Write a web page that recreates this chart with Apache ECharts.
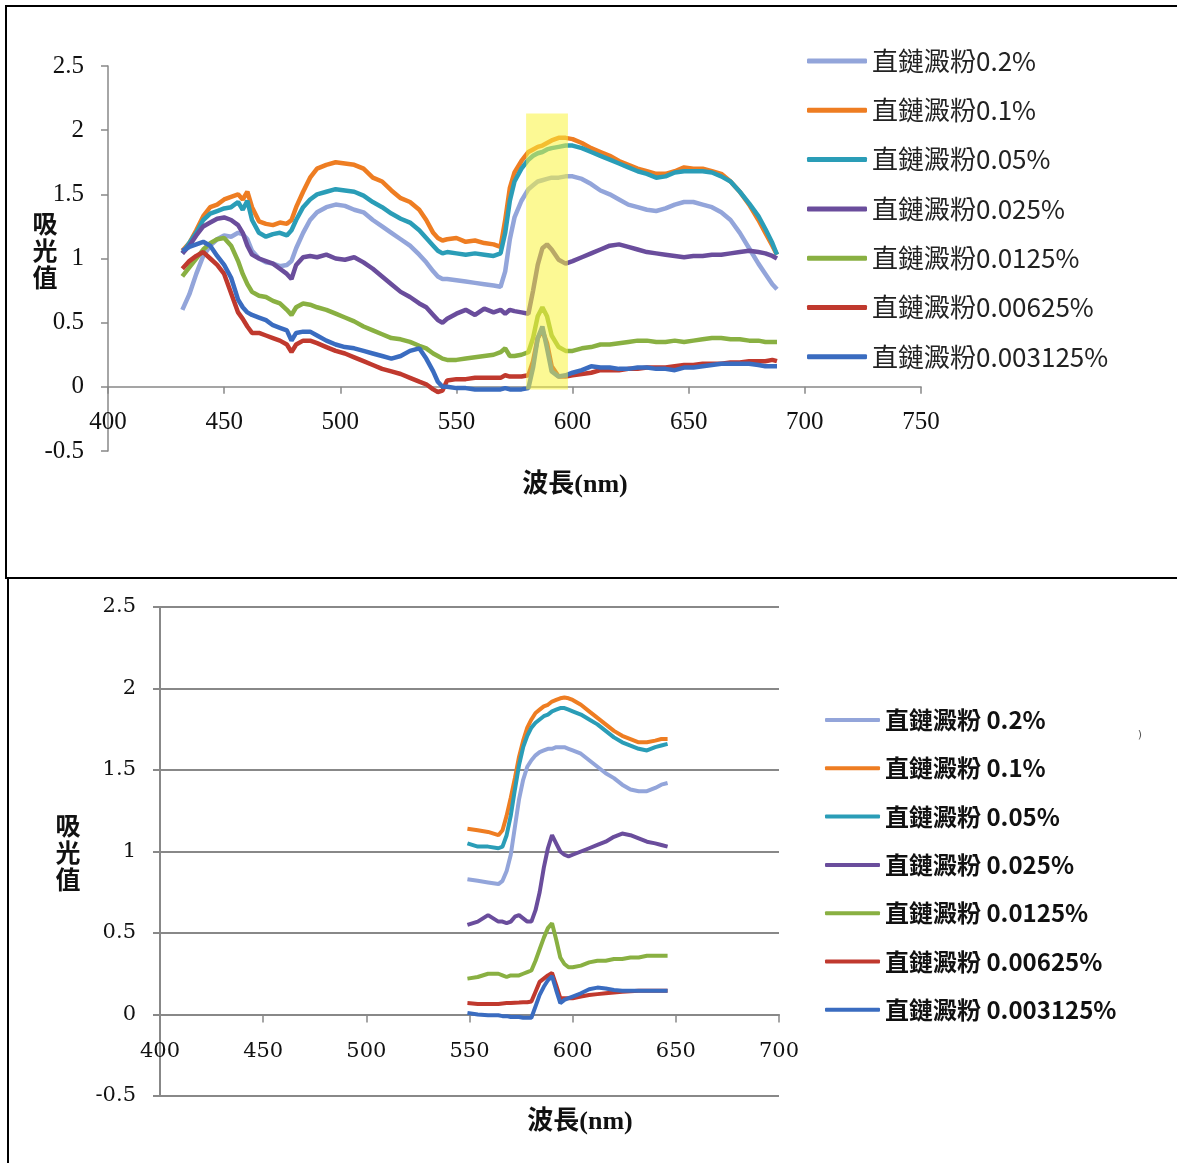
<!DOCTYPE html>
<html>
<head>
<meta charset="utf-8">
<script src="https://cdn.jsdelivr.net/npm/echarts@6/dist/echarts.min.js"></script>
<style>
html,body{margin:0;padding:0;background:#fff;}
#main{width:1177px;height:1163px;}
</style>
</head>
<body>
<div id="main"></div>
<script>
// ---------- names ----------
const seriesNames = ['直鏈澱粉0.2%','直鏈澱粉0.1%','直鏈澱粉0.05%','直鏈澱粉0.025%','直鏈澱粉0.0125%','直鏈澱粉0.00625%','直鏈澱粉0.003125%'];
const seriesColors = ['#93a5da','#ee7d22','#2a9db7','#6a4d9c','#89b042','#c0392e','#3a6cc0'];

// ---------- top chart (full spectrum) ----------
const topWave = [432,435,438,441,444,447,450,453,456,458,460,462,465,468,471,474,477,479,481,484,
487,490,494,498,502,506,510,514,518,522,526,530,534,537,540,542,544,546,550,554,
558,562,566,569,571,573,575,578,581,583,585,587,589,591,594,597,600,604,608,612,
616,620,624,628,632,636,640,644,648,652,656,660,664,668,672,676,680,683,686,688];

const top02 = [0.60,0.72,0.88,1.02,1.10,1.15,1.18,1.17,1.20,1.19,1.15,1.06,1.00,0.97,0.96,0.94,0.95,0.98,1.08,1.20,
1.30,1.36,1.40,1.42,1.41,1.38,1.36,1.30,1.25,1.20,1.15,1.10,1.03,0.97,0.90,0.86,0.84,0.84,0.83,0.82,
0.81,0.80,0.79,0.78,0.90,1.15,1.32,1.45,1.54,1.57,1.60,1.61,1.62,1.63,1.63,1.64,1.64,1.62,1.58,1.53,
1.50,1.46,1.42,1.40,1.38,1.37,1.39,1.42,1.44,1.44,1.42,1.40,1.36,1.30,1.20,1.08,0.96,0.88,0.80,0.76];

const top01 = [1.06,1.12,1.22,1.33,1.40,1.42,1.46,1.48,1.50,1.46,1.52,1.40,1.29,1.27,1.26,1.28,1.27,1.30,1.40,1.52,
1.63,1.70,1.73,1.75,1.74,1.73,1.70,1.63,1.60,1.53,1.47,1.44,1.38,1.30,1.20,1.16,1.14,1.15,1.16,1.13,
1.14,1.12,1.11,1.09,1.30,1.55,1.67,1.76,1.83,1.85,1.87,1.88,1.90,1.92,1.94,1.94,1.93,1.90,1.86,1.83,
1.80,1.76,1.73,1.70,1.68,1.66,1.66,1.68,1.71,1.70,1.70,1.68,1.66,1.60,1.52,1.42,1.30,1.20,1.10,1.03];

const top005 = [1.04,1.12,1.20,1.30,1.35,1.37,1.39,1.40,1.44,1.38,1.45,1.30,1.20,1.17,1.19,1.20,1.18,1.22,1.30,1.40,
1.46,1.50,1.52,1.54,1.53,1.52,1.49,1.44,1.40,1.35,1.31,1.28,1.22,1.16,1.10,1.06,1.04,1.05,1.04,1.03,
1.04,1.03,1.02,1.04,1.20,1.45,1.60,1.70,1.77,1.80,1.82,1.83,1.85,1.86,1.87,1.88,1.88,1.86,1.83,1.80,
1.77,1.74,1.71,1.68,1.66,1.63,1.64,1.67,1.68,1.68,1.68,1.67,1.64,1.60,1.52,1.43,1.33,1.23,1.12,1.03];

const top0025 = [1.04,1.10,1.18,1.25,1.28,1.31,1.32,1.30,1.26,1.20,1.10,1.03,1.00,0.98,0.96,0.92,0.88,0.84,0.95,1.01,
1.02,1.01,1.03,1.00,0.99,1.01,0.97,0.92,0.86,0.80,0.74,0.70,0.65,0.62,0.56,0.52,0.50,0.53,0.57,0.60,
0.56,0.61,0.58,0.60,0.57,0.60,0.59,0.58,0.57,0.75,0.95,1.08,1.11,1.07,0.99,0.96,0.98,1.01,1.04,1.07,
1.10,1.11,1.09,1.07,1.05,1.04,1.03,1.02,1.01,1.02,1.02,1.03,1.03,1.04,1.05,1.06,1.05,1.04,1.02,1.00];

const top00125 = [0.86,0.93,1.00,1.07,1.12,1.15,1.16,1.10,0.98,0.88,0.80,0.74,0.71,0.70,0.67,0.65,0.60,0.56,0.62,0.65,
0.64,0.62,0.60,0.57,0.54,0.51,0.47,0.44,0.41,0.38,0.37,0.35,0.32,0.30,0.26,0.24,0.22,0.21,0.21,0.22,
0.23,0.24,0.25,0.27,0.30,0.24,0.24,0.25,0.27,0.38,0.55,0.62,0.55,0.40,0.31,0.28,0.28,0.30,0.31,0.33,
0.33,0.34,0.35,0.36,0.36,0.35,0.35,0.36,0.35,0.36,0.37,0.38,0.38,0.37,0.37,0.36,0.36,0.35,0.35,0.35];

const top000625 = [0.92,0.98,1.02,1.05,1.00,0.95,0.88,0.73,0.58,0.53,0.47,0.42,0.42,0.40,0.38,0.36,0.33,0.27,0.33,0.36,
0.36,0.34,0.31,0.28,0.26,0.23,0.20,0.17,0.14,0.12,0.10,0.07,0.04,0.02,-0.02,-0.04,-0.03,0.05,0.06,0.06,
0.07,0.07,0.07,0.07,0.09,0.08,0.08,0.08,0.09,0.20,0.38,0.44,0.34,0.16,0.08,0.08,0.09,0.10,0.11,0.13,
0.13,0.13,0.14,0.14,0.15,0.15,0.15,0.16,0.17,0.17,0.18,0.18,0.18,0.19,0.19,0.20,0.20,0.20,0.21,0.20];

const top0003125 = [1.06,1.09,1.11,1.13,1.10,1.02,0.95,0.85,0.68,0.62,0.58,0.56,0.54,0.52,0.48,0.46,0.44,0.36,0.42,0.43,
0.43,0.40,0.36,0.33,0.31,0.30,0.28,0.26,0.24,0.22,0.24,0.28,0.30,0.22,0.12,0.04,0.00,0.00,-0.01,-0.01,
-0.02,-0.02,-0.02,-0.02,-0.01,-0.02,-0.02,-0.02,-0.01,0.15,0.38,0.47,0.30,0.12,0.08,0.09,0.11,0.13,0.16,0.15,
0.15,0.14,0.14,0.15,0.15,0.14,0.14,0.13,0.15,0.15,0.16,0.17,0.18,0.18,0.18,0.18,0.17,0.16,0.16,0.16];

// highlighted band [x0, x1, y0, y1]
const highlightBand = [580, 598, -0.02, 2.13];

// ---------- bottom chart (550-650 nm) ----------
const botWave = [549,554,559,564,566,568,570,572,574,576,578,580,582,584,586,588,590,592,594,596,598,600,604,608,612,616,620,624,628,632,636,640,643,646];

const bot02 = [0.83,0.82,0.81,0.80,0.82,0.88,0.98,1.15,1.32,1.44,1.52,1.56,1.59,1.61,1.62,1.63,1.63,1.64,1.64,1.64,1.63,1.62,1.60,1.56,1.52,1.48,1.45,1.41,1.38,1.37,1.37,1.39,1.41,1.42];
const bot01 = [1.14,1.13,1.12,1.10,1.13,1.22,1.33,1.45,1.58,1.68,1.76,1.81,1.85,1.87,1.89,1.90,1.92,1.93,1.94,1.945,1.94,1.93,1.90,1.86,1.82,1.78,1.74,1.71,1.69,1.67,1.67,1.68,1.69,1.69];
const bot005 = [1.05,1.03,1.03,1.02,1.03,1.10,1.22,1.38,1.53,1.64,1.71,1.76,1.79,1.81,1.83,1.84,1.86,1.87,1.88,1.88,1.87,1.86,1.84,1.81,1.78,1.74,1.70,1.67,1.65,1.63,1.62,1.64,1.65,1.66];
const bot0025 = [0.55,0.57,0.61,0.57,0.57,0.56,0.57,0.60,0.61,0.59,0.57,0.57,0.64,0.75,0.90,1.02,1.10,1.05,1.00,0.98,0.97,0.98,1.00,1.02,1.04,1.06,1.09,1.11,1.10,1.08,1.06,1.05,1.04,1.03];
const bot00125 = [0.22,0.23,0.25,0.25,0.24,0.23,0.24,0.24,0.24,0.25,0.26,0.27,0.33,0.40,0.47,0.53,0.56,0.46,0.35,0.31,0.29,0.29,0.30,0.32,0.33,0.33,0.34,0.34,0.35,0.35,0.36,0.36,0.36,0.36];
const bot000625 = [0.07,0.065,0.065,0.065,0.068,0.07,0.07,0.072,0.073,0.075,0.075,0.08,0.14,0.20,0.22,0.24,0.255,0.18,0.10,0.10,0.10,0.10,0.11,0.12,0.125,0.13,0.135,0.14,0.142,0.145,0.145,0.145,0.145,0.145];
const bot0003125 = [0.01,0.00,-0.005,-0.005,-0.01,-0.01,-0.015,-0.015,-0.015,-0.02,-0.02,-0.02,0.05,0.12,0.17,0.21,0.235,0.15,0.07,0.09,0.10,0.11,0.13,0.155,0.165,0.16,0.15,0.145,0.145,0.145,0.145,0.145,0.145,0.145];

const topValues = [top02, top01, top005, top0025, top00125, top000625, top0003125];
const botValues = [bot02, bot01, bot005, bot0025, bot00125, bot000625, bot0003125];

const zip = (xs, ys) => xs.map((x, i) => [x, ys[i]]);

// grid geometry (layout only)
const topGrid = { left: 108, top: 66, width: 813, height: 385 };
const botGrid = { left: 160, top: 607, width: 619, height: 489 };
const yMin = -0.5, yMax = 2.5;
// shift the x axis up so that it sits on y = 0
const topZeroOffset = -topGrid.height * (0 - yMin) / (yMax - yMin);
const botZeroOffset = -botGrid.height * (0 - yMin) / (yMax - yMin);

const axisGray = '#888888';
const series = [];
topValues.forEach((vals, i) => {
  series.push({
    type: 'line', name: seriesNames[i], xAxisIndex: 0, yAxisIndex: 0,
    data: zip(topWave, vals), showSymbol: false, symbol: 'none', smooth: false,
    lineStyle: { width: 4.5, color: seriesColors[i] }, itemStyle: { color: seriesColors[i] },
    z: 2, animation: false
  });
});
botValues.forEach((vals, i) => {
  series.push({
    type: 'line', name: seriesNames[i], xAxisIndex: 1, yAxisIndex: 1,
    data: zip(botWave, vals), showSymbol: false, symbol: 'none', smooth: false,
    lineStyle: { width: 4, color: seriesColors[i] }, itemStyle: { color: seriesColors[i] },
    z: 2, animation: false
  });
});
series.push({
  type: 'custom', xAxisIndex: 0, yAxisIndex: 0, z: 10, silent: true, animation: false,
  data: [highlightBand],
  renderItem: function (params, api) {
    const p0 = api.coord([api.value(0), api.value(3)]);
    const p1 = api.coord([api.value(1), api.value(2)]);
    return { type: 'rect', shape: { x: p0[0], y: p0[1], width: p1[0] - p0[0], height: p1[1] - p0[1] },
      style: { fill: 'rgba(250,244,60,0.55)' } };
  }
});

const chart = echarts.init(document.getElementById('main'), null, { renderer: 'canvas' });
chart.setOption({
  backgroundColor: '#ffffff',
  animation: false,
  grid: [topGrid, botGrid],
  xAxis: [
    { type: 'value', gridIndex: 0, min: 400, max: 750, interval: 50, position: 'bottom', offset: topZeroOffset,
      axisLine: { onZero: false, lineStyle: { color: axisGray, width: 1.5 } },
      axisTick: { show: true, length: 7, lineStyle: { color: axisGray, width: 1.5 } },
      axisLabel: { margin: 23, color: '#111', fontSize: 25, fontFamily: 'Liberation Serif' },
      splitLine: { show: false } },
    { type: 'value', gridIndex: 1, min: 400, max: 700, interval: 50, position: 'bottom', offset: botZeroOffset,
      axisLine: { onZero: false, lineStyle: { color: axisGray, width: 2 } },
      axisTick: { show: true, length: 8, lineStyle: { color: axisGray, width: 1.5 } },
      axisLabel: { margin: 27, color: '#111', fontSize: 21, fontFamily: 'DejaVu Serif' },
      splitLine: { show: false } }
  ],
  yAxis: [
    { type: 'value', gridIndex: 0, min: yMin, max: yMax, interval: 0.5,
      axisLine: { show: true, onZero: false, lineStyle: { color: axisGray, width: 1.5 } },
      axisTick: { show: true, length: 7, lineStyle: { color: axisGray, width: 1.5 } },
      axisLabel: { margin: 24, color: '#111', fontSize: 25, fontFamily: 'Liberation Serif' },
      splitLine: { show: false } },
    { type: 'value', gridIndex: 1, min: yMin, max: yMax, interval: 0.5,
      axisLine: { show: true, onZero: false, lineStyle: { color: axisGray, width: 2 } },
      axisTick: { show: true, length: 7, lineStyle: { color: axisGray, width: 2 } },
      axisLabel: { margin: 24, color: '#111', fontSize: 21, fontFamily: 'DejaVu Serif' },
      splitLine: { show: true, lineStyle: { color: axisGray, width: 2 } } }
  ],
  legend: [
    { orient: 'vertical', left: 802, top: 41, data: seriesNames, icon: 'roundRect',
      itemWidth: 60, itemHeight: 5, itemGap: 19.3, selectedMode: false,
      textStyle: { fontSize: 26, lineHeight: 30, color: '#222', fontFamily: 'Noto Sans CJK TC' } },
    { orient: 'vertical', left: 820, top: 700, data: seriesNames, icon: 'roundRect',
      itemWidth: 55, itemHeight: 4, itemGap: 18.3, selectedMode: false,
      formatter: n => n.replace('粉', '粉 '),
      textStyle: { fontSize: 24, lineHeight: 30, color: '#111', fontWeight: 'bold', fontFamily: 'Noto Sans CJK TC' } }
  ],
  graphic: [
    { type: 'rect', silent: true, z: 100, shape: { x: 6, y: 6, width: 1200, height: 572 },
      style: { fill: 'none', stroke: '#000', lineWidth: 2 } },
    { type: 'rect', silent: true, z: 100, shape: { x: 8, y: 578, width: 1200, height: 620 },
      style: { fill: 'none', stroke: '#000', lineWidth: 2 } },
    { type: 'text', x: 45, y: 250, z: 50, silent: true,
      style: { text: '吸\n光\n值', fontSize: 25, lineHeight: 27, fontWeight: 'bold', fill: '#111',
        fontFamily: 'Noto Sans CJK TC', align: 'center', verticalAlign: 'middle' } },
    { type: 'text', x: 68, y: 852, z: 50, silent: true,
      style: { text: '吸\n光\n值', fontSize: 25, lineHeight: 27, fontWeight: 'bold', fill: '#111',
        fontFamily: 'Noto Sans CJK TC', align: 'center', verticalAlign: 'middle' } },
    { type: 'text', x: 575, y: 485, z: 50, silent: true,
      style: { text: '波長(nm)', fontSize: 26, fontWeight: 'bold', fill: '#111',
        fontFamily: 'Liberation Serif, Noto Sans CJK TC', align: 'center', verticalAlign: 'middle' } },
    { type: 'text', x: 580, y: 1122, z: 50, silent: true,
      style: { text: '波長(nm)', fontSize: 26, fontWeight: 'bold', fill: '#111',
        fontFamily: 'Liberation Serif, Noto Sans CJK TC', align: 'center', verticalAlign: 'middle' } },
    { type: 'text', x: 1140, y: 735, z: 50, silent: true,
      style: { text: ')', fontSize: 11, fill: '#555', fontFamily: 'DejaVu Sans', align: 'center', verticalAlign: 'middle' } }
  ],
  series: series
});
</script>
</body>
</html>
